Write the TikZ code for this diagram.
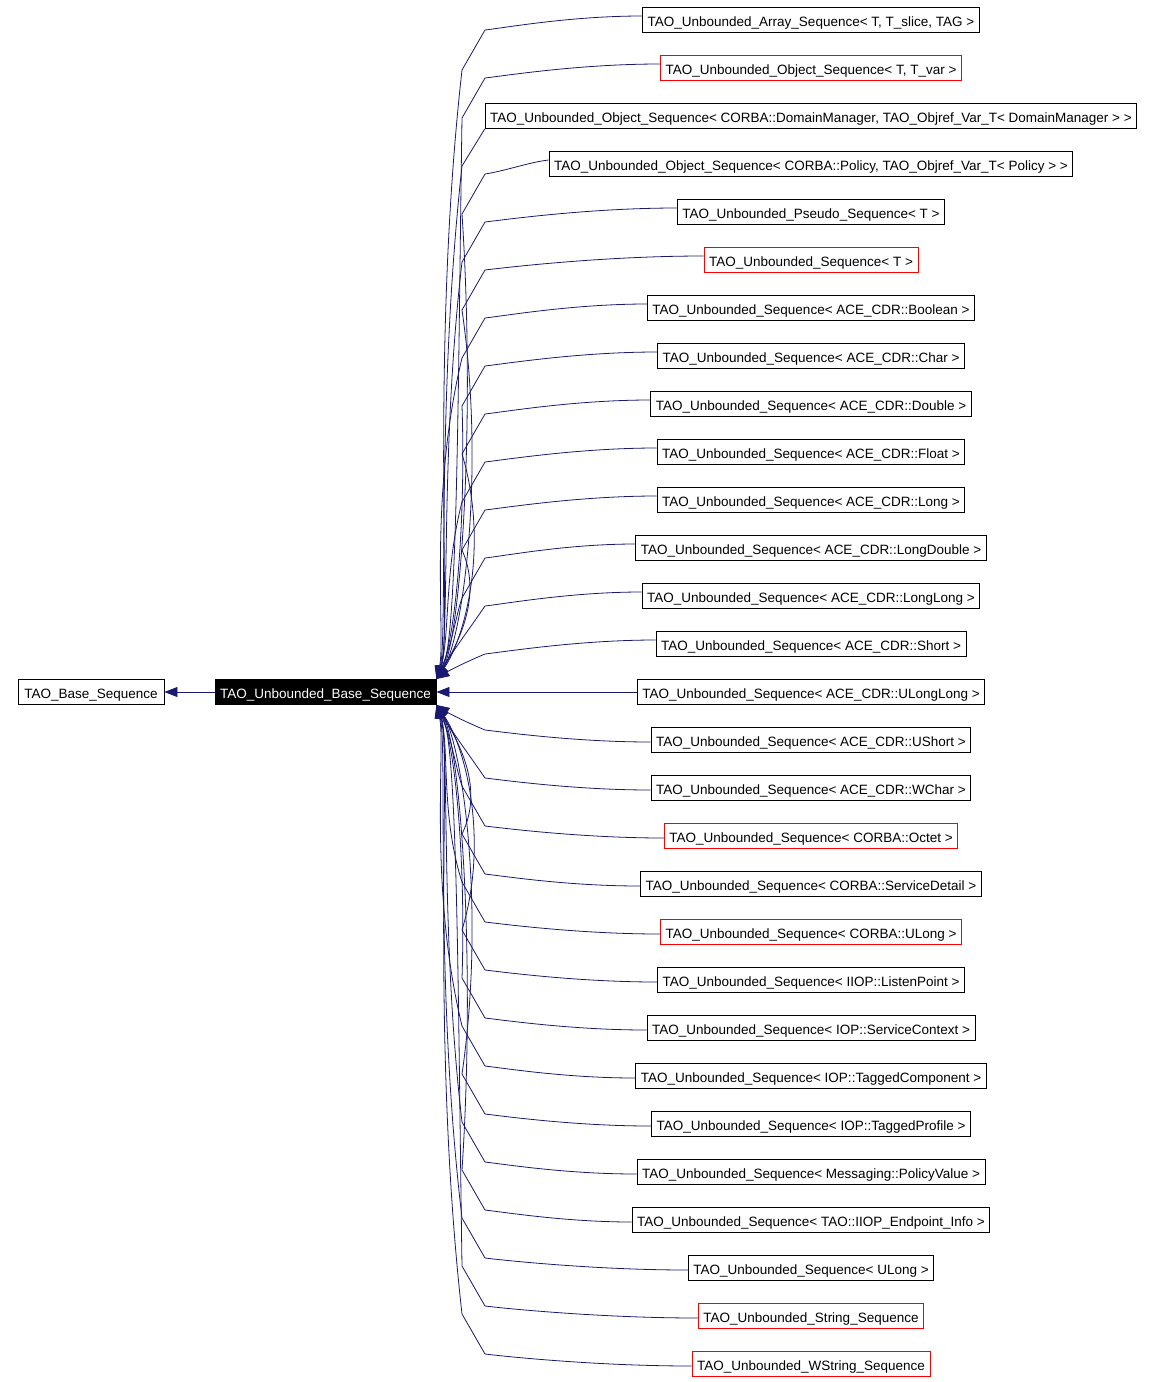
\documentclass[tikz,border=0pt]{standalone}
\usepackage{fontspec}
\setmainfont{Liberation Sans}
\usetikzlibrary{arrows.meta}
\definecolor{edgeblue}{RGB}{25,25,112}
\definecolor{boxred}{RGB}{255,0,0}

\begin{document}
\begin{tikzpicture}[x=1pt, y=-1pt,
    cls/.style={draw=black, line width=0.9pt, fill=white, minimum height=25pt, inner xsep=5pt, inner ysep=0pt, text height=13pt, text depth=0pt, font=\fontsize{13.5}{16}\selectfont},
    redcls/.style={cls, draw=boxred},
    cur/.style={cls, fill=black, text=white},
    link/.style={draw=edgeblue, line width=0.8pt, -{Triangle[length=13pt, width=10pt]}}]
    \useasboundingbox (0,0) rectangle (1155,1382);

    % Base classes
    \node[cls, minimum width=146pt] (r1) at (91,692) {TAO\_Base\_Sequence};
    \node[cur, minimum width=221pt] (r2) at (325.5,692) {TAO\_Unbounded\_Base\_Sequence};

    % Derived sequences
    \node[cls] (c1) at (811,20) {TAO\_Unbounded\_Array\_Sequence< T, T\_slice, TAG >};
    \node[redcls] (c2) at (811,68) {TAO\_Unbounded\_Object\_Sequence< T, T\_var >};
    \node[cls] (c3) at (811,116) {TAO\_Unbounded\_Object\_Sequence< CORBA::DomainManager, TAO\_Objref\_Var\_T< DomainManager > >};
    \node[cls] (c4) at (811,164) {TAO\_Unbounded\_Object\_Sequence< CORBA::Policy, TAO\_Objref\_Var\_T< Policy > >};
    \node[cls] (c5) at (811,212) {TAO\_Unbounded\_Pseudo\_Sequence< T >};
    \node[redcls] (c6) at (811,260) {TAO\_Unbounded\_Sequence< T >};
    \node[cls] (c7) at (811,308) {TAO\_Unbounded\_Sequence< ACE\_CDR::Boolean >};
    \node[cls] (c8) at (811,356) {TAO\_Unbounded\_Sequence< ACE\_CDR::Char >};
    \node[cls] (c9) at (811,404) {TAO\_Unbounded\_Sequence< ACE\_CDR::Double >};
    \node[cls] (c10) at (811,452) {TAO\_Unbounded\_Sequence< ACE\_CDR::Float >};
    \node[cls] (c11) at (811,500) {TAO\_Unbounded\_Sequence< ACE\_CDR::Long >};
    \node[cls] (c12) at (811,548) {TAO\_Unbounded\_Sequence< ACE\_CDR::LongDouble >};
    \node[cls] (c13) at (811,596) {TAO\_Unbounded\_Sequence< ACE\_CDR::LongLong >};
    \node[cls] (c14) at (811,644) {TAO\_Unbounded\_Sequence< ACE\_CDR::Short >};
    \node[cls] (c15) at (811,692) {TAO\_Unbounded\_Sequence< ACE\_CDR::ULongLong >};
    \node[cls] (c16) at (811,740) {TAO\_Unbounded\_Sequence< ACE\_CDR::UShort >};
    \node[cls] (c17) at (811,788) {TAO\_Unbounded\_Sequence< ACE\_CDR::WChar >};
    \node[redcls] (c18) at (811,836) {TAO\_Unbounded\_Sequence< CORBA::Octet >};
    \node[cls] (c19) at (811,884) {TAO\_Unbounded\_Sequence< CORBA::ServiceDetail >};
    \node[redcls] (c20) at (811,932) {TAO\_Unbounded\_Sequence< CORBA::ULong >};
    \node[cls] (c21) at (811,980) {TAO\_Unbounded\_Sequence< IIOP::ListenPoint >};
    \node[cls] (c22) at (811,1028) {TAO\_Unbounded\_Sequence< IOP::ServiceContext >};
    \node[cls] (c23) at (811,1076) {TAO\_Unbounded\_Sequence< IOP::TaggedComponent >};
    \node[cls] (c24) at (811,1124) {TAO\_Unbounded\_Sequence< IOP::TaggedProfile >};
    \node[cls] (c25) at (811,1172) {TAO\_Unbounded\_Sequence< Messaging::PolicyValue >};
    \node[cls] (c26) at (811,1220) {TAO\_Unbounded\_Sequence< TAO::IIOP\_Endpoint\_Info >};
    \node[cls] (c27) at (811,1268) {TAO\_Unbounded\_Sequence< ULong >};
    \node[redcls] (c28) at (811,1316) {TAO\_Unbounded\_String\_Sequence};
    \node[redcls] (c29) at (811,1364) {TAO\_Unbounded\_WString\_Sequence};

    % Inheritance from the base
    \draw[link] (r2) -- (r1);

    % Edges into the upper corner
    \draw[link] ([yshift=4pt]c1.west) .. controls (572,16) and (510,27) .. (485,30) -- (462,70) .. controls (430,355) and (452,640) .. (r2.north east);
    \draw[link] ([yshift=4pt]c2.west) .. controls (581,64) and (510,75) .. (485,78) -- (462,118) .. controls (458,379) and (458,640) .. (r2.north east);
    \draw[link] (c3.south west) -- (462,166) .. controls (436,403) and (448,640) .. (r2.north east);
    \draw[link] ([yshift=4pt]c4.west) .. controls (530,162) and (505,171) .. (485,174) -- (462,214) .. controls (476,427) and (460,640) .. (r2.north east);
    \draw[link] ([yshift=4pt]c5.west) .. controls (591,208) and (510,219) .. (485,222) -- (462,262) .. controls (440,451) and (450,640) .. (r2.north east);
    \draw[link] ([yshift=4pt]c6.west) .. controls (605,256) and (510,267) .. (485,270) -- (462,310) .. controls (486,475) and (462,640) .. (r2.north east);
    \draw[link] ([yshift=4pt]c7.west) .. controls (576,304) and (510,315) .. (485,318) -- (462,358) .. controls (428,499) and (446,640) .. (r2.north east);
    \draw[link] ([yshift=4pt]c8.west) .. controls (581,352) and (510,363) .. (485,366) -- (462,406) .. controls (466,523) and (455,640) .. (r2.north east);
    \draw[link] ([yshift=4pt]c9.west) .. controls (577,400) and (510,411) .. (485,414) -- (462,454) .. controls (490,547) and (464,640) .. (r2.north east);
    \draw[link] ([yshift=4pt]c10.west) .. controls (581,448) and (510,459) .. (485,462) -- (462,502) .. controls (444,571) and (450,640) .. (r2.north east);
    \draw[link] ([yshift=4pt]c11.west) .. controls (581,496) and (510,507) .. (485,510) -- (462,550) .. controls (482,595) and (460,640) .. (r2.north east);
    \draw[link] ([yshift=4pt]c12.west) .. controls (569,544) and (510,555) .. (485,558) -- (462,598) .. controls (456,615) and (452,645) .. (r2.north east);
    \draw[link] ([yshift=4pt]c13.west) .. controls (573,592) and (510,603) .. (485,606) .. controls (470,628) and (452,652) .. (r2.north east);
    \draw[link] ([yshift=4pt]c14.west) .. controls (581,640) and (510,651) .. (485,654) .. controls (466,662) and (450,670) .. (r2.north east);

    % Straight edge
    \draw[link] (c15) -- (r2);

    % Edges into the lower corner
    \draw[link] ([yshift=-2pt]c16.west) .. controls (578,742) and (510,733) .. (485,730) .. controls (466,722) and (450,714) .. (r2.south east);
    \draw[link] ([yshift=-2pt]c17.west) .. controls (578,790) and (510,781) .. (485,778) .. controls (470,756) and (452,732) .. (r2.south east);
    \draw[link] ([yshift=-2pt]c18.west) .. controls (585,838) and (510,829) .. (485,826) -- (462,786) .. controls (456,769) and (452,739) .. (r2.south east);
    \draw[link] ([yshift=-2pt]c19.west) .. controls (570,886) and (510,877) .. (485,874) -- (462,834) .. controls (484,789) and (460,744) .. (r2.south east);
    \draw[link] ([yshift=-2pt]c20.west) .. controls (583,934) and (510,925) .. (485,922) -- (462,882) .. controls (440,813) and (450,744) .. (r2.south east);
    \draw[link] ([yshift=-2pt]c21.west) .. controls (581,982) and (510,973) .. (485,970) -- (462,930) .. controls (490,837) and (464,744) .. (r2.south east);
    \draw[link] ([yshift=-2pt]c22.west) .. controls (575,1030) and (510,1021) .. (485,1018) -- (462,978) .. controls (466,861) and (455,744) .. (r2.south east);
    \draw[link] ([yshift=-2pt]c23.west) .. controls (568,1078) and (510,1069) .. (485,1066) -- (462,1026) .. controls (428,885) and (446,744) .. (r2.south east);
    \draw[link] ([yshift=-2pt]c24.west) .. controls (577,1126) and (510,1117) .. (485,1114) -- (462,1074) .. controls (486,909) and (462,744) .. (r2.south east);
    \draw[link] ([yshift=-2pt]c25.west) .. controls (568,1174) and (510,1165) .. (485,1162) -- (462,1122) .. controls (440,933) and (450,744) .. (r2.south east);
    \draw[link] ([yshift=-2pt]c26.west) .. controls (568,1222) and (510,1213) .. (485,1210) -- (462,1170) .. controls (476,957) and (460,744) .. (r2.south east);
    \draw[link] ([yshift=-2pt]c27.west) .. controls (598,1270) and (510,1261) .. (485,1258) -- (462,1218) .. controls (434,981) and (448,744) .. (r2.south east);
    \draw[link] ([yshift=-2pt]c28.west) .. controls (603,1318) and (510,1309) .. (485,1306) -- (462,1266) .. controls (458,1005) and (458,744) .. (r2.south east);
    \draw[link] ([yshift=-2pt]c29.west) .. controls (599,1366) and (510,1357) .. (485,1354) -- (462,1314) .. controls (430,1029) and (452,744) .. (r2.south east);
\end{tikzpicture}
\end{document}
